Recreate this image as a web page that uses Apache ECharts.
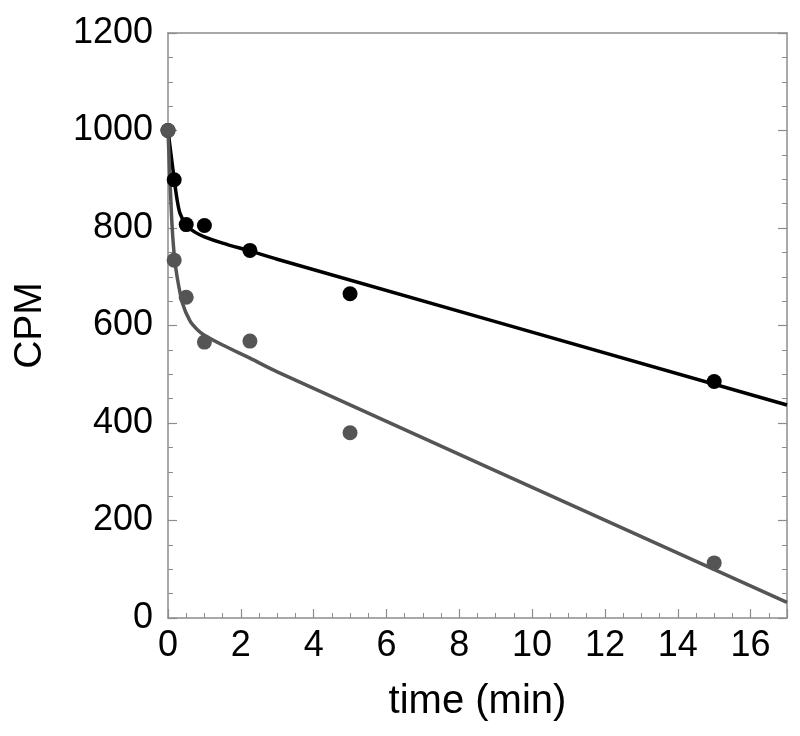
<!DOCTYPE html>
<html>
<head>
<meta charset="utf-8">
<script src="https://cdn.jsdelivr.net/npm/echarts@6/dist/echarts.min.js"></script>
<style>
  html, body { margin: 0; padding: 0; background: #fff; }
  #chart { width: 800px; height: 736px; }
</style>
</head>
<body>
<div id="chart"></div>
<script>
// measured points (time in min, CPM)
const blackPoints = [[0, 1000], [0.17, 899], [0.5, 807], [1, 805], [2.25, 754], [5, 665], [15, 485]];
const grayPoints = [[0, 1000], [0.17, 734], [0.5, 658], [1, 566], [2.25, 568], [5, 380], [15, 113]];

// fitted curves
const blackCurve = [[0, 1000], [0.17, 900], [0.25, 858], [0.33, 830], [0.5, 806], [0.75, 791], [1, 782],
  [1.5, 769], [2.25, 753], [3, 736], [17, 437]];
const grayCurve = [[0, 1000], [0.1, 820], [0.17, 745], [0.25, 700], [0.4, 645], [0.6, 610], [0.8, 592],
  [1, 580], [1.5, 560], [2.25, 533], [3, 505], [17, 32]];

const xTicks = { min: 0, max: 17, interval: 2 };
const yTicks = { min: 0, max: 1200, interval: 200 };

const boxColor = '#8c8c8c';
const font = 'Liberation Sans, Arial, sans-serif';

const chart = echarts.init(document.getElementById('chart'), null, { renderer: 'canvas' });

const boxLine = { show: true, onZero: false, lineStyle: { color: boxColor, width: 1.5 } };
const majorTick = { show: true, inside: true, length: 9, lineStyle: { color: boxColor, width: 1.2 } };
const minorTick = { show: true, splitNumber: 4, length: 5, lineStyle: { color: boxColor, width: 1 } };

chart.setOption({
  animation: false,
  backgroundColor: '#fff',
  grid: { left: 168, right: 13, top: 33, bottom: 118 },
  xAxis: [{
    type: 'value',
    position: 'bottom',
    ...xTicks,
    name: 'time (min)',
    nameLocation: 'middle',
    nameGap: 64,
    nameTextStyle: { fontFamily: font, fontSize: 40, color: '#000' },
    axisLine: boxLine,
    axisTick: majorTick,
    minorTick: minorTick,
    splitLine: { show: false },
    axisLabel: {
      fontFamily: font, fontSize: 36, color: '#000', margin: 10, showMaxLabel: false,
      formatter: v => (v === 17 ? '' : String(v))
    }
  }, {
    type: 'value',
    position: 'top',
    ...xTicks,
    axisLine: boxLine,
    axisTick: { show: false },
    axisLabel: { show: false },
    splitLine: { show: false }
  }],
  yAxis: [{
    type: 'value',
    position: 'left',
    ...yTicks,
    name: 'CPM',
    nameLocation: 'middle',
    nameGap: 118,
    nameTextStyle: { fontFamily: font, fontSize: 39, color: '#000' },
    axisLine: boxLine,
    axisTick: majorTick,
    minorTick: minorTick,
    splitLine: { show: false },
    axisLabel: { fontFamily: font, fontSize: 36, color: '#000', margin: 15, formatter: v => String(v) }
  }, {
    type: 'value',
    position: 'right',
    ...yTicks,
    axisLine: boxLine,
    axisTick: majorTick,
    minorTick: minorTick,
    splitLine: { show: false },
    axisLabel: { show: false }
  }],
  series: [
    {
      type: 'line', data: blackCurve, showSymbol: false, smooth: 0.3,
      lineStyle: { color: '#000', width: 3.5 }, z: 2
    },
    {
      type: 'line', data: grayCurve, showSymbol: false, smooth: 0.3,
      lineStyle: { color: '#555', width: 3.5 }, z: 2
    },
    {
      type: 'scatter', data: blackPoints, symbolSize: 15,
      itemStyle: { color: '#000', opacity: 1 }, z: 3
    },
    {
      type: 'scatter', data: grayPoints, symbolSize: 15,
      itemStyle: { color: '#555', opacity: 1 }, z: 4
    }
  ]
});
</script>
</body>
</html>
